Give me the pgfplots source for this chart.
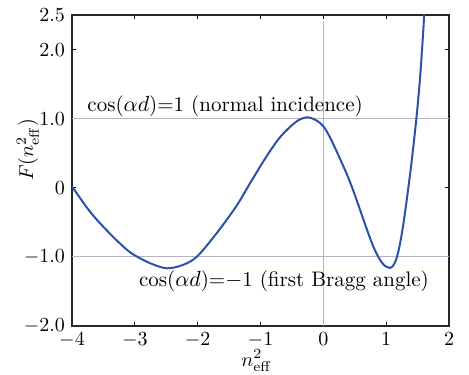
\documentclass[border=0pt]{standalone}
\usepackage{pgfplots}
\pgfplotsset{compat=1.18}
\definecolor{curveblue}{RGB}{45,80,175}
\definecolor{refgray}{RGB}{185,178,198}
\begin{document}
\begin{tikzpicture}
\useasboundingbox (-36pt,-24pt) rectangle (198.5pt,163pt);
\begin{axis}[
  at={(0,0)}, anchor=south west,
  scale only axis,
  width=188.5pt, height=155.5pt,
  xmin=-4, xmax=2, ymin=-2, ymax=2.5,
  xtick={-4,-3,-2,-1,0,1,2},
  xticklabels={$-4$,$-3$,$-2$,$-1$,$0$,$1$,$2$},
  ytick={-2,-1,0,1,2,2.5},
  yticklabels={$-2.0$,$-1.0$,$0$,$1.0$,$2.0$,$2.5$},
  tick align=inside,
  major tick length=2pt,
  tick style={black, line width=0.5pt},
  axis line style={black!85, line width=1pt},
  xlabel={$n_{\mathrm{eff}}^{2}$},
  ylabel={$F(n_{\mathrm{eff}}^{2})$},
  xlabel style={at={(axis description cs:0.49,-0.112)}, anchor=center},
  ylabel style={at={(axis description cs:-0.117,0.566)}, anchor=center, rotate=0},
  clip=true,
]
\addplot[refgray, line width=0.5pt, forget plot] coordinates {(-4,1) (2,1)};
\addplot[refgray, line width=0.5pt, forget plot] coordinates {(-4,-1) (2,-1)};
\addplot[refgray, line width=0.5pt, forget plot] coordinates {(0,-2) (0,2.41)};
\addplot[curveblue, line width=1pt, smooth, tension=0.5] coordinates {
(-4.0,0.02)
(-3.71,-0.35)
(-3.4,-0.66)
(-3.08,-0.93)
(-2.76,-1.09)
(-2.49,-1.165)
(-2.23,-1.115)
(-2.01,-0.995)
(-1.7,-0.66)
(-1.38,-0.26)
(-1.17,0.06)
(-0.9,0.46)
(-0.7,0.72)
(-0.53,0.88)
(-0.4,0.975)
(-0.26,1.02)
(-0.12,0.98)
(0,0.89)
(0.1,0.74)
(0.2,0.55)
(0.3,0.35)
(0.4,0.14)
(0.5,-0.1)
(0.6,-0.36)
(0.7,-0.62)
(0.8,-0.86)
(0.9,-1.04)
(0.98,-1.13)
(1.064,-1.16)
(1.1,-1.14)
(1.15,-1.06)
(1.2,-0.9)
(1.25,-0.66)
(1.3,-0.36)
(1.35,-0.02)
(1.4,0.34)
(1.45,0.74)
(1.5,1.18)
(1.55,1.72)
(1.6,2.42)
(1.65,3.25)
};
\node[anchor=base west, inner sep=0pt, font=\fontsize{10.5}{12}\selectfont] at (axis cs:-3.76,1.10) {cos($\alpha d$)=1 (normal incidence)};
\node[anchor=base west, inner sep=0pt, font=\fontsize{10.5}{12}\selectfont] at (axis cs:-2.94,-1.43) {cos($\alpha d$)=$-$1 (first Bragg angle)};
\end{axis}
\end{tikzpicture}
\end{document}
